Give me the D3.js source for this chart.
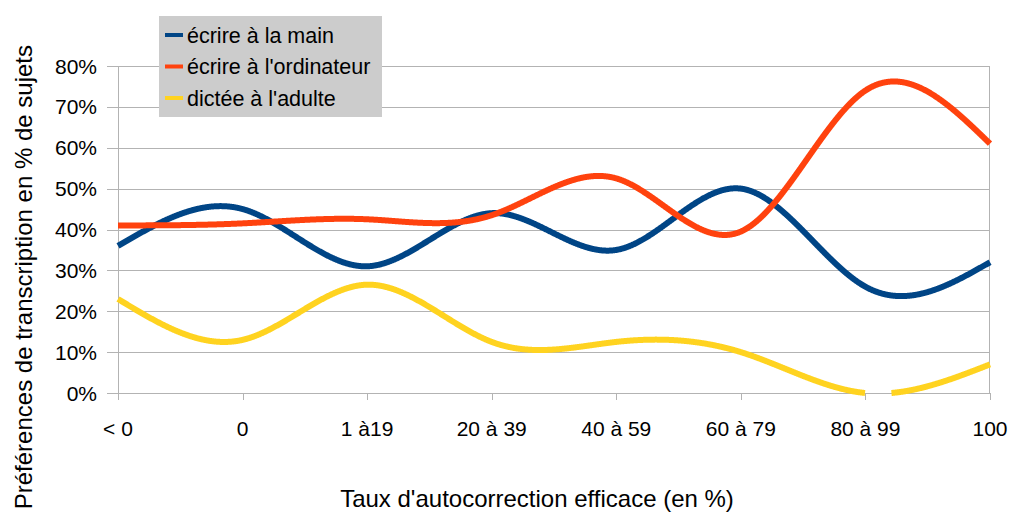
<!DOCTYPE html>
<html>
<head>
<meta charset="utf-8">
<script src="https://cdn.jsdelivr.net/npm/d3@7"></script>
<style>
  body { margin: 0; background: #fff; }
  text { font-family: "Liberation Sans", Arial, sans-serif; fill: #000; }
</style>
</head>
<body>
<svg id="chart"></svg>
<script>
// categories and series
const categories = ["< 0", "0", "1 à19", "20 à 39", "40 à 59", "60 à 79", "80 à 99", "100"];
const main = [36, 45, 31, 44, 35, 50, 26, 32];
const ordinateur = [41, 41.5, 42.5, 43.5, 52.5, 39.5, 74, 61];
const dictee = [23, 13, 26.5, 12.5, 12.5, 10, 0, 7];
const yTicks = [0, 10, 20, 30, 40, 50, 60, 70, 80];

const series = [
  { name: "écrire à la main", values: main, color: "#004586" },
  { name: "écrire à l'ordinateur", values: ordinateur, color: "#ff420e" },
  { name: "dictée à l'adulte", values: dictee, color: "#ffd320" }
];

const W = 1010, H = 514;
const margin = { top: 66, right: 20, bottom: 121, left: 118 },
    width = W - margin.left - margin.right,
    height = H - margin.top - margin.bottom;

const svg = d3.select("#chart").attr("width", W).attr("height", H);

const x = d3.scalePoint().domain(categories).range([0, width]);
const y = d3.scaleLinear().domain([0, 80]).range([height, 0]);

const g = svg.append("g").attr("transform", `translate(${margin.left},${margin.top})`);

// horizontal gridlines (extending left as ticks)
g.selectAll(".grid")
  .data(yTicks)
  .enter().append("line")
  .attr("x1", -11).attr("x2", width)
  .attr("y1", d => Math.round(y(d)) + 0.5)
  .attr("y2", d => Math.round(y(d)) + 0.5)
  .attr("stroke", "#b3b3b3");

// left axis and right border
g.append("line").attr("x1", 0.5).attr("x2", 0.5).attr("y1", 0).attr("y2", height + 7).attr("stroke", "#b3b3b3");
g.append("line").attr("x1", width - 0.5).attr("x2", width - 0.5).attr("y1", 0).attr("y2", height).attr("stroke", "#b3b3b3");

// x tick marks
g.selectAll(".xtick")
  .data(categories)
  .enter().append("line")
  .attr("x1", d => Math.round(x(d)) + 0.5)
  .attr("x2", d => Math.round(x(d)) + 0.5)
  .attr("y1", height).attr("y2", height + 7)
  .attr("stroke", "#b3b3b3");

// y labels
g.selectAll(".ylab")
  .data(yTicks)
  .enter().append("text")
  .attr("x", -21)
  .attr("y", d => y(d))
  .attr("dy", "0.36em")
  .attr("text-anchor", "end")
  .style("font-size", "21px")
  .text(d => d + "%");

// x labels
g.selectAll(".xlab")
  .data(categories)
  .enter().append("text")
  .attr("x", d => x(d))
  .attr("y", height + 43)
  .attr("text-anchor", "middle")
  .style("font-size", "21px")
  .text(d => d);

const line = d3.line()
  .x((d, i) => x(categories[i]))
  .y(d => y(d))
  .curve(d3.curveNatural);

// the spline is cut where it leaves the plot area (not just its stroke)
const cut = d3.line()
  .defined(p => p[1] <= height && p[1] >= 0)
  .x(p => p[0]).y(p => p[1]);

series.forEach(s => {
  const tmp = g.append("path").attr("d", line(s.values)).attr("fill", "none");
  const node = tmp.node(), len = node.getTotalLength();
  const pts = d3.range(0, len, 0.5).concat([len]).map(l => {
    const p = node.getPointAtLength(l);
    return [p.x, p.y];
  });
  tmp.remove();
  g.append("path")
    .attr("d", cut(pts))
    .attr("fill", "none")
    .attr("stroke", s.color)
    .attr("stroke-width", 6);
});

// axis titles
svg.append("text")
  .attr("x", 537)
  .attr("y", 507)
  .attr("text-anchor", "middle")
  .style("font-size", "24px")
  .text("Taux d'autocorrection efficace (en %)");

svg.append("text")
  .attr("transform", "translate(32,45) rotate(-90)")
  .attr("text-anchor", "end")
  .style("font-size", "24px")
  .text("Préférences de transcription en % de sujets");

// legend
const legend = svg.append("g").attr("transform", "translate(159,16)");
legend.append("rect").attr("width", 223).attr("height", 101).attr("fill", "#cccccc");
const item = legend.selectAll(".item")
  .data(series)
  .enter().append("g")
  .attr("transform", (d, i) => `translate(0,${19 + i * 31.5})`);
item.append("line")
  .attr("x1", 6).attr("x2", 24)
  .attr("stroke", d => d.color)
  .attr("stroke-width", 4);
item.append("text")
  .attr("x", 28)
  .attr("dy", "0.36em")
  .style("font-size", "21.5px")
  .text(d => d.name);
</script>
</body>
</html>
